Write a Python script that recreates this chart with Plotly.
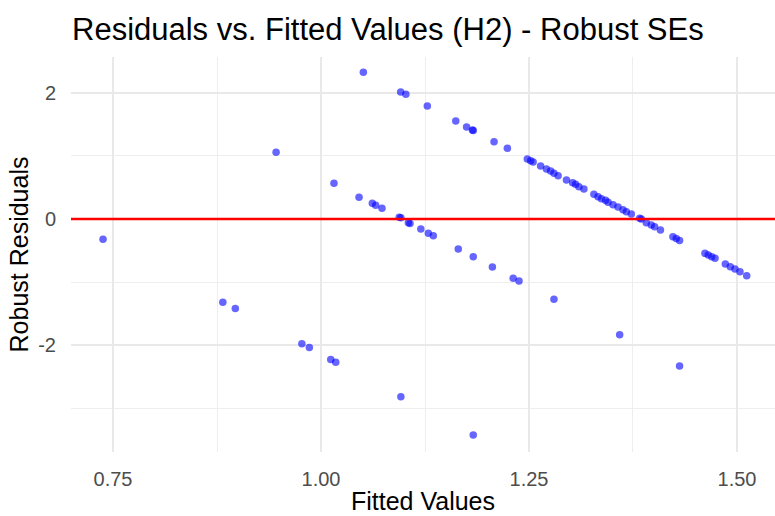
import plotly.graph_objects as go

# Fitted values and robust residuals (model H2)
fitted = [
    0.738, 0.946, 1.0156, 1.0457,
    # upper band
    1.0509, 1.0958, 1.102, 1.1278, 1.162, 1.175, 1.182, 1.183, 1.208, 1.224,
    1.248, 1.252, 1.255, 1.264, 1.271, 1.276, 1.280, 1.285, 1.295, 1.3025,
    1.306, 1.310, 1.316, 1.328, 1.333, 1.337, 1.342, 1.345, 1.351, 1.357,
    1.363, 1.367, 1.373, 1.383, 1.385, 1.391, 1.397, 1.401, 1.408, 1.423,
    1.427, 1.431, 1.4615, 1.4655, 1.4696, 1.4736, 1.486, 1.492, 1.4976,
    1.5036, 1.5117,
    # lower band
    1.0617, 1.0657, 1.0733, 1.094, 1.096, 1.105, 1.107, 1.12, 1.129, 1.135,
    1.165, 1.183, 1.206, 1.231, 1.238, 1.280, 1.359, 1.431,
    # outliers below
    1.096, 1.183, 0.882, 0.897, 0.977, 0.986, 1.0117, 1.0177,
]
residuals = [
    -0.32, 1.06, 0.567, 0.344,
    2.33, 2.016, 1.98, 1.794, 1.556, 1.46, 1.413, 1.405, 1.227, 1.122,
    0.952, 0.926, 0.905, 0.841, 0.794, 0.762, 0.725, 0.688, 0.619, 0.577,
    0.550, 0.513, 0.476, 0.392, 0.354, 0.322, 0.297, 0.265, 0.227, 0.19,
    0.148, 0.116, 0.079, 0.011, 0.0, -0.058, -0.095, -0.122, -0.175, -0.28,
    -0.31, -0.34, -0.545, -0.571, -0.598, -0.624, -0.714, -0.757, -0.794,
    -0.836, -0.9,
    0.249, 0.217, 0.17, 0.027, 0.02, -0.058, -0.07, -0.159, -0.227, -0.265,
    -0.476, -0.598, -0.762, -0.94, -0.984, -1.275, -1.836, -2.333,
    -2.82, -3.43, -1.32, -1.42, -1.98, -2.04, -2.23, -2.275,
]

x_ticks = [0.75, 1.00, 1.25, 1.50]
x_tick_text = ["0.75", "1.00", "1.25", "1.50"]
x_minor = [0.875, 1.125, 1.375]
y_ticks = [-2, 0, 2]
y_tick_text = ["-2", "0", "2"]
y_minor = [-3, -1, 1]

FONT = "Liberation Sans, Arial, sans-serif"
GRID = "#e9e9e9"
MINOR_GRID = "#eeeeee"
TICK_COLOR = "#4d4d4d"

fig = go.Figure()
fig.add_trace(go.Scatter(
    x=fitted, y=residuals, mode="markers",
    marker=dict(size=7.5, color="rgba(0,0,255,0.6)", line=dict(width=0)),
    showlegend=False, hoverinfo="x+y",
))
fig.add_hline(y=0, line=dict(color="#ff0000", width=2.6))

fig.update_layout(
    width=775, height=516,
    margin=dict(l=71, r=0, t=57, b=64),
    paper_bgcolor="white", plot_bgcolor="white",
    font=dict(family=FONT),
    title=dict(
        text="Residuals vs. Fitted Values (H2) - Robust SEs",
        x=72 / 775, xref="container", xanchor="left",
        y=1 - 29 / 516, yref="container", yanchor="middle",
        font=dict(size=31, color="black", family=FONT),
    ),
)
fig.update_xaxes(
    range=[0.6995, 1.5457],
    tickmode="array", tickvals=x_ticks, ticktext=x_tick_text,
    tickfont=dict(size=20, color=TICK_COLOR),
    ticks="outside", ticklen=9, tickcolor="rgba(0,0,0,0)",
    showgrid=True, gridcolor=GRID, gridwidth=1.5,
    minor=dict(tickmode="array", tickvals=x_minor, showgrid=True,
               gridcolor=MINOR_GRID, gridwidth=1.3),
    zeroline=False, showline=False,
    title=dict(text="Fitted Values", font=dict(size=25, color="black"),
               standoff=3),
)
fig.update_yaxes(
    range=[-3.698, 2.571],
    tickmode="array", tickvals=y_ticks, ticktext=y_tick_text,
    tickfont=dict(size=20, color=TICK_COLOR),
    ticks="outside", ticklen=10, tickcolor="rgba(0,0,0,0)",
    showgrid=True, gridcolor=GRID, gridwidth=1.5,
    minor=dict(tickmode="array", tickvals=y_minor, showgrid=True,
               gridcolor=MINOR_GRID, gridwidth=1.3),
    zeroline=False, showline=False,
    title=dict(text="Robust Residuals", font=dict(size=25, color="black"),
               standoff=2),
)

fig.write_html("out.html")
